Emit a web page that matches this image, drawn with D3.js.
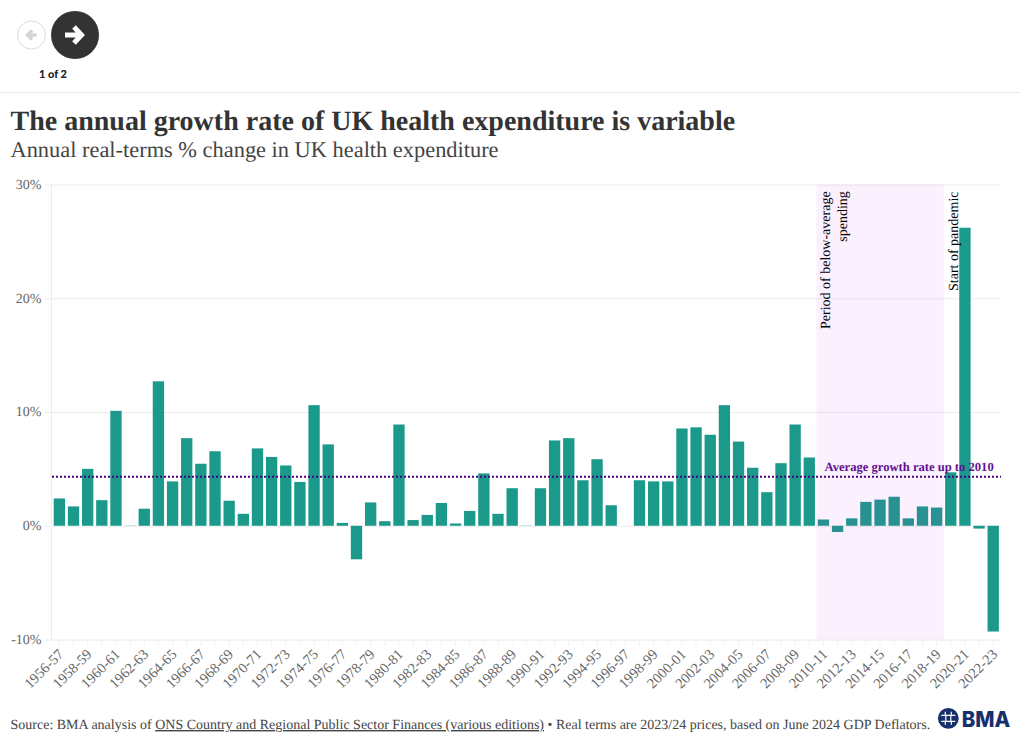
<!DOCTYPE html>
<html><head><meta charset="utf-8">
<script src="https://cdn.jsdelivr.net/npm/d3@7"></script>
<style>
html,body{margin:0;padding:0;background:#fff;overflow:hidden}
svg{display:block}
text{font-family:"Liberation Serif",serif;text-rendering:geometricPrecision}
</style></head><body>
<svg id="c" width="1020" height="743"></svg>
<script>
const categories=["1956-57","1957-58","1958-59","1959-60","1960-61","1961-62","1962-63","1963-64","1964-65","1965-66","1966-67","1967-68","1968-69","1969-70","1970-71","1971-72","1972-73","1973-74","1974-75","1975-76","1976-77","1977-78","1978-79","1979-80","1980-81","1981-82","1982-83","1983-84","1984-85","1985-86","1986-87","1987-88","1988-89","1989-90","1990-91","1991-92","1992-93","1993-94","1994-95","1995-96","1996-97","1997-98","1998-99","1999-00","2000-01","2001-02","2002-03","2003-04","2004-05","2005-06","2006-07","2007-08","2008-09","2009-10","2010-11","2011-12","2012-13","2013-14","2014-15","2015-16","2016-17","2017-18","2018-19","2019-20","2020-21","2021-22","2022-23"];
const growth=[2.4,1.7,5.0,2.25,10.1,0.02,1.5,12.7,3.9,7.7,5.45,6.55,2.2,1.05,6.8,6.05,5.3,3.85,10.6,7.15,0.25,-2.95,2.05,0.4,8.9,0.5,0.95,2.0,0.2,1.3,4.6,1.05,3.3,0.02,3.3,7.5,7.7,4.0,5.85,1.8,0,4.0,3.9,3.9,8.55,8.65,8.0,10.6,7.4,5.1,2.95,5.5,8.9,6.0,0.55,-0.55,0.65,2.1,2.3,2.55,0.65,1.7,1.6,4.7,26.2,-0.25,-9.3];
const yTicks=[-10,0,10,20,30];
const averageRate=4.3;
const bandRange=["2010-11","2018-19"];
const titleText="The annual growth rate of UK health expenditure is variable";
const subtitleText="Annual real-terms % change in UK health expenditure";
const pandemicLabel="Start of pandemic";
const periodLabel=["Period of below-average","spending"];
const averageLabel="Average growth rate up to 2010";

const svg=d3.select("#c");
const x=d3.scaleBand().domain(categories).range([52.3,1000.3]).paddingInner(0.2).paddingOuter(0.1);
const y=d3.scaleLinear().domain([-10,30]).range([639.5,184.5]);
const gridC="#ececec",textC="#666";

// header
svg.append("line").attr("x1",0).attr("x2",1020).attr("y1",92.5).attr("y2",92.5).attr("stroke","#e8e8e8");
const prev=svg.append("g").attr("transform","translate(31.5,35)");
prev.append("circle").attr("r",14).attr("fill","#fff").attr("stroke","#dcdcdc").attr("stroke-width",1);
prev.append("path").attr("d","M5,0H-3M0.5,-4.5L-4,0L0.5,4.5").attr("fill","none").attr("stroke","#d4d4d4").attr("stroke-width",3.5);
const next=svg.append("g").attr("transform","translate(75,35)");
next.append("circle").attr("r",24).attr("fill","#333");
next.append("path").attr("d","M-10,0H5.5M-1,-8L6.5,0L-1,8").attr("fill","none").attr("stroke","#fff").attr("stroke-width",5);
svg.append("text").attr("x",53).attr("y",78).attr("text-anchor","middle").style("font-family","Lato,sans-serif").style("font-weight",900).style("font-size","11px").attr("fill","#222").text("1 of 2");

svg.append("text").attr("x",10.5).attr("y",130).style("font-size","28px").style("font-weight",700).attr("fill","#333").text(titleText);
svg.append("text").attr("x",10.5).attr("y",157).style("font-size","22.4px").attr("fill","#444").text(subtitleText);

// grid and axes
const yAxis=d3.axisLeft(y).tickValues(yTicks).tickFormat(d=>d+"%").tickSize(948).tickPadding(10);
const gy=svg.append("g").attr("transform","translate(1000,0)").call(yAxis);
gy.select(".domain").remove();
gy.selectAll("line").attr("stroke",gridC).attr("x1",0).attr("x2",-955);
gy.selectAll("text").attr("x",-958.5).attr("y",-0.5).style("font-size","14px").attr("fill",textC).style("font-family","Liberation Serif");
svg.append("line").attr("x1",51.5).attr("x2",51.5).attr("y1",184.5).attr("y2",639.5).attr("stroke",gridC);

const xAxis=d3.axisBottom(x).tickSize(6).tickFormat((d,i)=>i%2===0?d:"");
const gx=svg.append("g").attr("transform","translate(0,639.5)").call(xAxis);
gx.select(".domain").remove();
gx.selectAll("line").attr("stroke","#f0f0f0");
gx.selectAll("text").attr("text-anchor","end").attr("transform","rotate(-45)").attr("x",-7.5).attr("y",10).attr("dy","0.32em")
  .style("font-size","14.5px").style("font-family","Liberation Serif").attr("fill",textC);

// bars
svg.selectAll(".bar").data(categories).join("rect").attr("class","bar")
  .attr("x",d=>x(d)).attr("width",x.bandwidth())
  .attr("y",(d,i)=>y(Math.max(0,growth[i])))
  .attr("height",(d,i)=>Math.abs(y(growth[i])-y(0)))
  .attr("fill","#1b998b");

// highlighted period
const gap=x.step()-x.bandwidth();
const bx0=x(bandRange[0])-gap/2, bx1=x(bandRange[1])+x.bandwidth()+gap/2;
svg.append("rect").attr("x",bx0).attr("width",bx1-bx0).attr("y",y(30)).attr("height",y(-10)-y(30)).attr("fill","#c83ce6").attr("opacity",0.08);

// average line
svg.append("line").attr("x1",52).attr("x2",1001).attr("y1",y(averageRate)).attr("y2",y(averageRate))
  .attr("stroke","#4b0082").attr("stroke-width",2).attr("stroke-dasharray","2 2");
svg.append("text").attr("x",993.7).attr("y",y(averageRate)-5.5).attr("text-anchor","end").style("font-size","12.6px").style("font-weight",700).attr("fill","#5f0f90").text(averageLabel);

// rotated annotations
svg.append("text").attr("transform","translate(830,329) rotate(-90)").style("font-size","14px").attr("fill","#000").text(periodLabel[0]);
svg.append("text").attr("transform","translate(847,216.5) rotate(-90)").attr("text-anchor","middle").style("font-size","14px").attr("fill","#000").text(periodLabel[1]);
svg.append("text").attr("transform","translate(957.5,291) rotate(-90)").style("font-size","14px").attr("fill","#000").text(pandemicLabel);

// footer
const src=svg.append("text").attr("x",10.5).attr("y",729).style("font-size","14px").attr("fill","#444");
src.append("tspan").text("Source: BMA analysis of ");
src.append("tspan").attr("text-decoration","underline").text("ONS Country and Regional Public Sector Finances (various editions)");
src.append("tspan").text(" • Real terms are 2023/24 prices, based on June 2024 GDP Deflators.");

// logo
const logo=svg.append("g").attr("transform","translate(948.3,718.3)");
logo.append("circle").attr("r",10.4).attr("fill","#17306b");
logo.append("path").attr("d","M-7,-3H7M-7,3H7M-3,-6.5V-3M3,-6.5V-3M-2.5,-3V3M2.5,-3V3M-3,3V6.5M3,3V6.5").attr("stroke","#fff").attr("stroke-width",1.2).attr("fill","none");
svg.append("text").attr("x",961.8).attr("y",726.7).attr("textLength",48.5).attr("lengthAdjust","spacingAndGlyphs").style("font-family","Inter,sans-serif").style("font-weight",800).style("font-size","22px").attr("fill","#17306b").text("BMA");
</script></body></html>
